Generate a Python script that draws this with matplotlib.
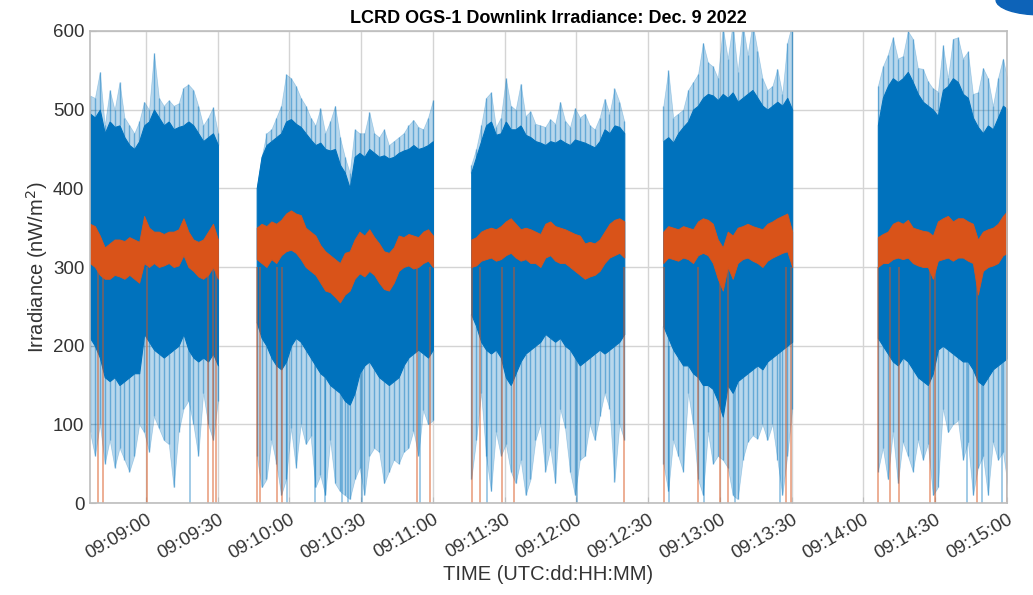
import numpy as np
import pandas as pd
import matplotlib
matplotlib.use("Agg")
import matplotlib.pyplot as plt
from matplotlib.patches import Ellipse

plt.rcParams['font.family'] = ['Liberation Sans', 'DejaVu Sans']

BLUE = '#0072BD'
ORANGE = '#D95319'

base = pd.Timestamp('2022-12-09 09:00:00')

# pass start/end, minutes after 09:00 (UTC, Dec. 9)
seg_start = [-23.4, 46.3, 136.0, 216.3, 306.0]
seg_end = [30.1, 120.0, 200.0, 270.2, 360.4]

# envelopes: light peaks, dark band top, orange band, dark band bottom, light troughs
top = [
    [518, 515, 548, 480, 525, 500, 535, 490, 480, 470, 485, 510, 500, 572, 515, 505, 512, 505, 508, 528,
     532, 525, 505, 480, 490, 503, 470],
    [400, 440, 470, 475, 490, 505, 545, 540, 530, 515, 505, 490, 480, 502, 470, 485, 505, 465, 440, 420,
     475, 470, 470, 497, 470, 465, 475, 455, 460, 465, 470, 480, 487, 478, 475, 490, 512],
    [430, 450, 480, 515, 522, 478, 490, 540, 505, 500, 533, 492, 498, 482, 480, 478, 488, 482, 510, 486,
     478, 502, 490, 495, 480, 475, 490, 514, 495, 527, 510, 485],
    [505, 550, 490, 495, 500, 525, 535, 545, 585, 560, 555, 540, 605, 565, 610, 548, 610, 570, 610, 575,
     540, 525, 530, 552, 520, 585, 610],
    [530, 555, 570, 592, 565, 568, 600, 590, 553, 552, 536, 527, 523, 582, 540, 590, 592, 565, 574, 520,
     522, 553, 540, 505, 540, 565, 536],
]
hi = [
    [495, 490, 500, 470, 485, 478, 480, 465, 455, 450, 460, 480, 485, 500, 490, 480, 485, 475, 478, 480,
     485, 480, 470, 460, 465, 470, 455],
    [400, 440, 455, 460, 465, 470, 485, 488, 482, 478, 470, 462, 455, 458, 450, 448, 450, 430, 420, 400,
     440, 445, 440, 450, 445, 440, 442, 438, 440, 445, 448, 450, 455, 450, 452, 455, 460],
    [420, 440, 460, 480, 485, 468, 470, 485, 475, 475, 480, 468, 465, 460, 458, 455, 460, 458, 462, 458,
     455, 462, 460, 458, 455, 452, 460, 475, 470, 480, 478, 470],
    [460, 465, 458, 470, 478, 485, 500, 505, 515, 520, 518, 512, 520, 515, 522, 510, 515, 520, 525, 515,
     505, 500, 505, 510, 505, 515, 500],
    [480, 515, 530, 540, 535, 540, 548, 535, 520, 510, 505, 500, 492, 525, 530, 540, 535, 520, 515, 490,
     478, 470, 480, 475, 490, 505, 500],
]
orange_hi = [
    [355, 352, 340, 325, 330, 335, 335, 333, 338, 335, 332, 365, 350, 345, 345, 342, 345, 345, 348, 362,
     345, 335, 332, 335, 345, 355, 335],
    [350, 355, 352, 358, 355, 360, 368, 372, 368, 366, 350, 345, 340, 328, 320, 315, 310, 305, 318, 320,
     335, 345, 340, 348, 338, 330, 320, 318, 325, 340, 338, 342, 340, 338, 345, 348, 340],
    [335, 338, 345, 348, 350, 348, 352, 358, 362, 355, 348, 350, 348, 345, 342, 355, 358, 352, 350, 348,
     345, 342, 340, 330, 332, 330, 335, 345, 355, 360, 362, 358],
    [345, 352, 350, 348, 352, 350, 348, 358, 362, 360, 355, 335, 325, 345, 340, 350, 352, 355, 352, 350,
     348, 355, 358, 362, 365, 368, 345],
    [338, 342, 345, 355, 358, 355, 360, 350, 348, 346, 345, 340, 358, 362, 365, 358, 362, 362, 358, 355,
     335, 345, 348, 350, 355, 365, 372],
]
orange_lo = [
    [305, 300, 290, 285, 285, 290, 288, 285, 290, 285, 280, 305, 300, 305, 300, 302, 305, 300, 302, 315,
     300, 295, 288, 285, 290, 300, 285],
    [310, 305, 300, 310, 305, 315, 320, 322, 318, 310, 300, 295, 290, 280, 270, 268, 262, 255, 265, 270,
     285, 292, 288, 295, 290, 280, 272, 270, 280, 295, 300, 302, 298, 300, 305, 308, 300],
    [300, 302, 308, 310, 312, 308, 310, 315, 318, 312, 308, 310, 305, 305, 300, 312, 315, 308, 305, 305,
     300, 295, 290, 285, 288, 290, 295, 305, 312, 315, 318, 312],
    [305, 312, 310, 308, 312, 310, 305, 315, 318, 315, 305, 285, 270, 300, 285, 305, 310, 312, 308, 305,
     300, 308, 312, 315, 318, 320, 300],
    [300, 305, 305, 310, 312, 310, 312, 305, 302, 300, 300, 285, 308, 310, 312, 308, 312, 312, 308, 305,
     265, 295, 300, 302, 305, 315, 318],
]
lo = [
    [210, 200, 185, 160, 155, 160, 150, 155, 160, 165, 165, 215, 205, 195, 190, 185, 190, 195, 200, 215,
     195, 185, 180, 185, 180, 190, 175],
    [230, 210, 200, 185, 175, 170, 180, 200, 210, 205, 195, 185, 175, 165, 160, 150, 145, 140, 130, 125,
     140, 165, 175, 180, 170, 160, 155, 150, 155, 160, 175, 185, 190, 195, 190, 185, 195],
    [240, 225, 205, 195, 190, 195, 185, 160, 150, 165, 180, 190, 195, 200, 205, 215, 210, 205, 210, 200,
     195, 185, 175, 180, 185, 190, 195, 190, 195, 200, 205, 215],
    [225, 210, 195, 185, 175, 175, 165, 160, 150, 150, 145, 130, 110, 150, 140, 155, 160, 165, 170, 175,
     170, 180, 185, 190, 195, 200, 205],
    [210, 200, 190, 180, 175, 185, 180, 170, 160, 155, 150, 165, 195, 200, 195, 190, 185, 180, 180, 170,
     155, 150, 160, 170, 175, 180, 185],
]
bot = [
    [90, 60, 100, 50, 80, 45, 70, 55, 40, 60, 100, 90, 65, 110, 95, 80, 75, 20, 90, 120,
     130, 100, 60, 140, 100, 80, 130],
    [60, 20, 30, 80, 50, 10, 30, 95, 45, 100, 75, 85, 20, 35, 10, 80, 25, 15, 10, 5,
     30, 45, 10, 60, 70, 65, 25, 40, 55, 50, 65, 70, 92, 60, 118, 100, 105],
    [30, 80, 140, 60, 15, 90, 60, 75, 40, 25, 55, 10, 30, 80, 100, 40, 70, 25, 120, 95,
     40, 10, 55, 60, 100, 80, 110, 140, 120, 27, 100, 80],
    [50, 15, 80, 60, 40, 140, 100, 30, 10, 90, 50, 60, 55, 45, 10, 5, 55, 78, 86, 82,
     100, 80, 100, 55, 10, 60, 120],
    [40, 70, 30, 90, 25, 78, 60, 40, 80, 55, 75, 10, 20, 120, 90, 100, 105, 55, 78, 10,
     45, 60, 10, 78, 55, 65, 20],
]

# drop-outs down to zero (minutes after 09:00)
orange_drops = [-20.1, -18.0, 0.4, 25.9, 28.0, 29.3,
                46.4, 47.7, 54.8, 56.9, 113.4, 118.8,
                136.3, 139.7, 148.8, 153.7, 200.0,
                216.4, 230.8, 239.9, 243.4, 267.8, 269.9,
                306.0, 311.3, 314.8, 328.0, 330.1, 347.6, 360.1]
blue_drops = [18.4, 59.0, 70.7, 74.9, 82.0, 84.5, 90.4, 114.6,
              142.6, 180.2, 218.5, 233.2, 246.4, 265.3, 343.4, 349.7, 358.0]

tick_labels = ['09:09:00', '09:09:30', '09:10:00', '09:10:30', '09:11:00', '09:11:30', '09:12:00',
               '09:12:30', '09:13:00', '09:13:30', '09:14:00', '09:14:30', '09:15:00']


def tm(minutes):
    return base + pd.to_timedelta(np.asarray(minutes, dtype=float), unit='m')


fig = plt.figure(figsize=(10.33, 5.95), dpi=100)
ax = fig.add_axes([0.0871, 0.1546, 0.8877, 0.7933])

for k in range(5):
    n = len(top[k])
    t = tm(np.linspace(seg_start[k], seg_end[k], n))
    ax.fill_between(t, hi[k], top[k], color=BLUE, alpha=0.28, lw=0.5)
    ax.fill_between(t, bot[k], lo[k], color=BLUE, alpha=0.28, lw=0.5)
    ax.vlines(t, hi[k], top[k], color=BLUE, alpha=0.45, lw=1.0)
    ax.vlines(t, bot[k], lo[k], color=BLUE, alpha=0.45, lw=1.0)
    ax.fill_between(t, lo[k], hi[k], color=BLUE, lw=0.8)
    ax.fill_between(t, orange_lo[k], orange_hi[k], color=ORANGE, lw=0.6)

ax.vlines(tm(blue_drops), 0, 200, color=BLUE, alpha=0.4, lw=1.3)
ax.vlines(tm(orange_drops), 0, 300, color=ORANGE, alpha=0.5, lw=1.3)

ax.set_ylim(0, 600)
ax.set_xlim(tm(-23.4), tm(360.0))
ax.set_yticks([0, 100, 200, 300, 400, 500, 600])
ticks = tm(np.arange(0, 361, 30))
ax.set_xticks(ticks)
ax.set_xticklabels(tick_labels, rotation=30, ha='right', rotation_mode='anchor')

ax.grid(True, color='#d4d4d4', lw=1.0)
ax.set_axisbelow(True)
for s in ax.spines.values():
    s.set_color('#bdbdbd')
    s.set_linewidth(1.2)
ax.tick_params(direction='in', length=4, color='#bdbdbd', labelsize=13.5, labelcolor='#333333', pad=4)
ax.tick_params(axis='x', pad=6)

ax.set_title('LCRD OGS-1 Downlink Irradiance: Dec. 9 2022', fontsize=13, fontweight='bold', pad=6)
ax.set_ylabel('Irradiance (nW/m$^2$)', fontsize=14.5, color='#333333', labelpad=2)
ax.set_xlabel('TIME (UTC:dd:HH:MM)', fontsize=14.5, color='#333333', labelpad=2)

# bit of a neighbouring window peeking in at the top right
fig.patches.append(Ellipse((1040 / 1033, 1.0), 0.085, 0.05, transform=fig.transFigure,
                           color='#0d63b8', zorder=5))

fig.savefig('out.png', dpi=100)
